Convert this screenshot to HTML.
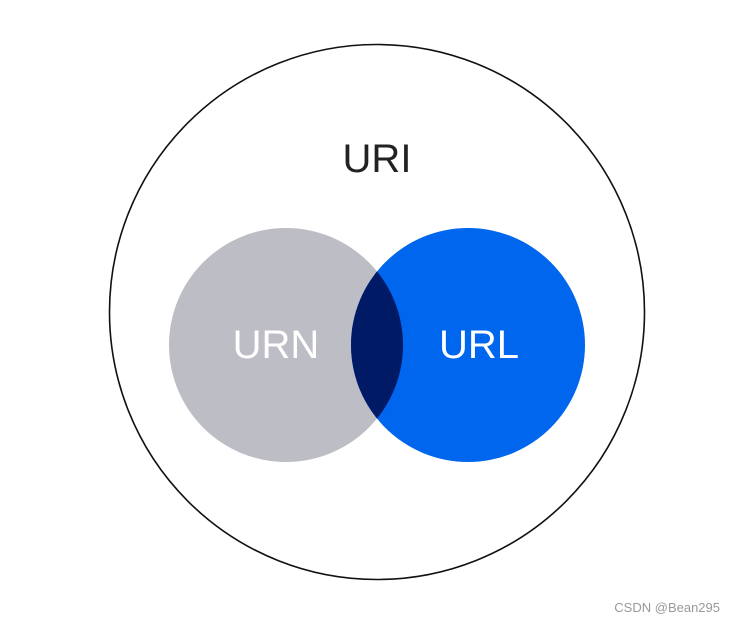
<!DOCTYPE html>
<html><head><style>html,body{margin:0;padding:0;background:#fff;}</style></head>
<body>
<svg width="734" height="623" viewBox="0 0 734 623" xmlns="http://www.w3.org/2000/svg">
<rect width="734" height="623" fill="#fff"/>
<circle cx="377" cy="312" r="267.5" fill="none" stroke="#111" stroke-width="1.6"/>
<defs><clipPath id="g"><circle cx="286" cy="345" r="117"/></clipPath></defs>
<circle cx="286" cy="345" r="117" fill="#bdbdc5"/>
<circle cx="468" cy="345" r="117" fill="#0066ee"/>
<circle cx="468" cy="345" r="117" fill="#001a66" clip-path="url(#g)"/>
<text x="377" y="172" text-anchor="middle" font-family="Liberation Sans, sans-serif" font-size="40" font-weight="300" fill="#222" style="font-weight:lighter">URI</text>
<text x="276" y="358" text-anchor="middle" font-family="Liberation Sans, sans-serif" font-size="40" fill="#fff">URN</text>
<text x="479" y="358" text-anchor="middle" font-family="Liberation Sans, sans-serif" font-size="40" fill="#fff">URL</text>
<text x="720" y="612" text-anchor="end" font-family="Liberation Sans, sans-serif" font-size="13" fill="#999">CSDN @Bean295</text>
</svg>
</body></html>
